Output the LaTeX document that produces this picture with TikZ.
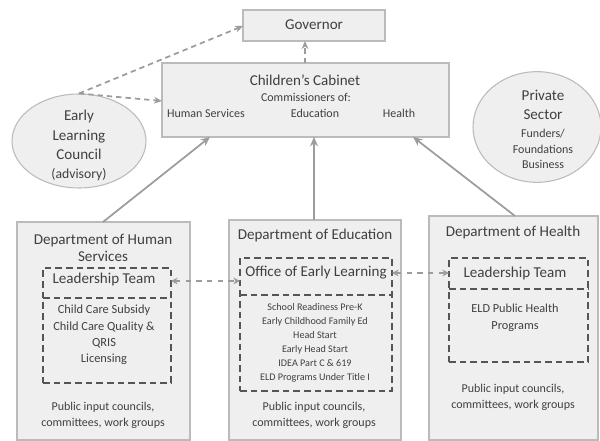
\documentclass[tikz,border=0pt]{standalone}
\usepackage{fontspec}
\setmainfont{Carlito}
\usetikzlibrary{arrows.meta,fit,shapes.geometric}
\definecolor{boxfill}{HTML}{EFEFEF}
\definecolor{boxline}{HTML}{BBBBBB}
\definecolor{txt}{HTML}{404040}
\definecolor{dashc}{HTML}{555555}
\definecolor{arr}{HTML}{9C9C9C}
\tikzset{
  x=0.75pt, y=-0.75pt,
  outerbox/.style={draw=boxline, fill=boxfill, line width=0.8pt, inner sep=0pt},
  innerbox/.style={draw=dashc, line width=0.9pt, dash pattern=on 5pt off 3pt, inner sep=0pt},
  sepline/.style={draw=dashc, line width=0.9pt, dash pattern=on 5pt off 3pt},
  oval/.style={ellipse, draw=boxline, fill=boxfill, line width=0.8pt, inner sep=0pt},
  big/.style={text=txt, font=\fontsize{11.3}{13}\selectfont, inner sep=0pt},
  mid/.style={text=txt, font=\fontsize{9}{11}\selectfont, inner sep=0pt},
  small/.style={text=txt, font=\fontsize{7.6}{9}\selectfont, inner sep=0pt},
  solidarrow/.style={draw=arr, line width=1.3pt, -{Stealth[length=7pt,width=6pt]}},
  dasharrow/.style={draw=arr, line width=1.3pt, dash pattern=on 4pt off 3pt, -{Stealth[length=6pt,width=5pt]}},
  dashbi/.style={draw=arr, line width=1.3pt, dash pattern=on 4pt off 4pt, {Stealth[length=5pt,width=5pt]}-{Stealth[length=5pt,width=5pt]}},
}
\begin{document}
\begin{tikzpicture}
\useasboundingbox (0,0) rectangle (600,441);
% top boxes
\node[outerbox, fit={(243,10) (385,41)}] (gov) {};
\node[big] (govt) at (314,25) {Governor};
\node[outerbox, fit={(162,63) (449,137)}] (cab) {};
\node[big] (cabt) at (305,80) {Children’s Cabinet};
\node[mid] (cabc) at (306,97) {Commissioners of:};
\node[mid] (cabh) at (206,113) {Human Services};
\node[mid] (cabe) at (315,113) {Education};
\node[mid] (cabhe) at (399,113) {Health};
% ellipses
\node[oval, minimum width=100.5pt, minimum height=70.5pt] (elc) at (79,141) {};
\node[big, align=center] (elct) at (79,135) {Early\\[1.6pt]Learning\\[1.6pt]Council};
\node[big, font=\fontsize{10.3}{12}\selectfont] (elca) at (79,175) {(advisory)};
\node[oval, minimum width=96pt, minimum height=83pt] (ps) at (537,127) {};
\node[big, align=center] (pst) at (543,105) {Private\\[1.5pt]Sector};
\node[mid, align=center, font=\fontsize{9}{11.6}\selectfont] (psf) at (543,149) {Funders/\\Foundations\\Business};
% department boxes
\node[outerbox, fit={(17,222) (190,440)}] (hs) {};
\node[big, align=center] (hst) at (103,248) {Department of Human\\Services};
\node[outerbox, fit={(229,220) (401,440)}] (edu) {};
\node[big] (edut) at (315,235) {Department of Education};
\node[outerbox, fit={(429,216) (598,440)}] (hl) {};
\node[big] (hlt) at (513,232) {Department of Health};
% inner dashed boxes
\node[innerbox, fit={(43,268) (171,383)}] (hslt) {};
\draw[sepline] (43,298) -- (171,298);
\node[big] (hsltt) at (104,279) {Leadership Team};
\node[mid, align=center, font=\fontsize{9.3}{12.2}\selectfont] (hslist) at (104,335) {Child Care Subsidy\\Child Care Quality \&\\QRIS\\Licensing};
\node[innerbox, fit={(240,258) (392,391)}] (oel) {};
\draw[sepline] (240,295) -- (392,295);
\node[big] (oelt) at (316,273) {Office of Early Learning};
\node[small, align=center, font=\fontsize{7.6}{10.5}\selectfont] (oellist) at (315,343) {School Readiness Pre-K\\Early Childhood Family Ed\\Head Start\\Early Head Start\\IDEA Part C \& 619\\ELD Programs Under Title I};
\node[innerbox, fit={(449,258) (588,362)}] (hllt) {};
\draw[sepline] (449,289) -- (588,289);
\node[big] (hlltt) at (515,273) {Leadership Team};
\node[mid, align=center, font=\fontsize{9.2}{12.5}\selectfont] (hllist) at (515,318) {ELD Public Health\\Programs};
% public input
\node[mid, align=center, font=\fontsize{9}{12}\selectfont] (hspub) at (103,415) {Public input councils,\\committees, work groups};
\node[mid, align=center, font=\fontsize{9}{12}\selectfont] (edupub) at (314,415) {Public input councils,\\committees, work groups};
\node[mid, align=center, font=\fontsize{9}{12}\selectfont] (hlpub) at (513,397) {Public input councils,\\committees, work groups};
% coordinates
\coordinate (cabL) at (162,101);
\coordinate (govL) at (243,26);
\coordinate (govB) at (305,41);
\coordinate (cabT) at (305,63);
\coordinate (cabB1) at (210,137);
\coordinate (cabB2) at (314,137);
\coordinate (cabB3) at (413,137);
\coordinate (hsT) at (103,222);
\coordinate (eduT) at (314,220);
\coordinate (hlT) at (515,216);
\coordinate (hsltR) at (171,281);
\coordinate (oelL) at (240,281);
\coordinate (oelR) at (392,273);
\coordinate (hlltL) at (449,273);
% arrows
\draw[dasharrow] (elc.north) -- (govL);
\draw[dasharrow] (elc.north) -- (cabL);
\draw[dasharrow] (cabT) -- (govB);
\draw[solidarrow] (hsT) -- (cabB1);
\draw[solidarrow] (eduT) -- (cabB2);
\draw[solidarrow] (hlT) -- (cabB3);
\draw[dashbi] (hsltR) -- (oelL);
\draw[dashbi] (oelR) -- (hlltL);
\end{tikzpicture}
\end{document}
